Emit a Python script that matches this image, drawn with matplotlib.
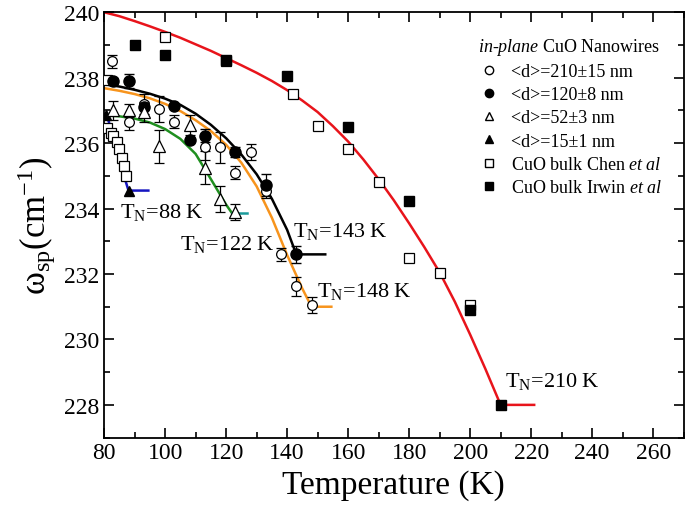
import matplotlib.pyplot as plt
from matplotlib.lines import Line2D
from matplotlib.ticker import MultipleLocator

plt.rcParams['font.family'] = 'Liberation Serif'
plt.rcParams['mathtext.fontset'] = 'custom'
plt.rcParams['mathtext.rm'] = 'Liberation Serif'
plt.rcParams['mathtext.it'] = 'Liberation Serif:italic'

# <d>=210 nm (open circles) and fit
d210_T = [82.6, 88, 93, 98, 103, 113, 118, 123, 128, 133, 138, 143, 148]
d210_w = [238.5, 236.65, 237.2, 237.05, 236.65, 235.87, 235.87, 235.1, 235.72, 234.53, 232.6, 231.62, 231.05]
d210_e = [0.2, 0.25, 0.3, 0.4, 0.2, 0.4, 0.47, 0.2, 0.25, 0.2, 0.2, 0.3, 0.25]
fit210_T = [80, 85, 90, 95, 100, 105, 110, 115, 120, 125, 130, 135, 140, 145, 148, 154.5]
fit210_w = [237.68, 237.6, 237.5, 237.37, 237.2, 236.98, 236.7, 236.37, 235.95, 235.4, 234.68, 233.72, 232.58, 231.55, 231.0, 231.0]

# <d>=120 nm (filled circles) and fit
d120_T = [83, 88, 93, 103, 108, 113, 123, 133, 143]
d120_w = [237.9, 237.9, 237.1, 237.13, 236.1, 236.22, 235.72, 234.72, 232.6]
d120_e = [0.1, 0.2, 0.0, 0.0, 0.0, 0.2, 0.15, 0.35, 0.25]
fit120_T = [80, 85, 90, 95, 100, 105, 110, 115, 120, 125, 130, 135, 140, 143, 152.5]
fit120_w = [237.8, 237.73, 237.63, 237.51, 237.36, 237.17, 236.9, 236.56, 236.15, 235.65, 235.05, 234.3, 233.35, 232.6, 232.6]

# <d>=52 nm (open triangles) and fit
d52_T = [83, 88, 93, 98, 108, 113, 118, 123]
d52_w = [237.0, 237.0, 236.95, 235.9, 236.55, 235.25, 234.3, 233.9]
d52_e = [0.3, 0.2, 0.3, 0.5, 0.3, 0.5, 0.4, 0.25]
fit52_T = [80, 85, 90, 95, 100, 105, 110, 115, 120, 122]
fit52_w = [236.85, 236.82, 236.75, 236.63, 236.43, 236.13, 235.67, 234.9, 234.12, 233.85]
flat52_T = [122, 127]
flat52_w = [233.85, 233.85]

# <d>=15 nm (filled triangles) and fit
d15_T = [80.5, 88]
d15_w = [236.85, 234.55]
fit15_T = [80, 81, 82, 83.5, 85, 86, 87, 88, 94.5]
fit15_w = [236.88, 236.8, 236.52, 236.18, 235.65, 235.3, 234.85, 234.55, 234.55]

# bulk CuO
chen_T = [81, 81, 82.4, 83, 84.1, 84.8, 85.8, 86.6, 87.3, 100, 120, 142, 150, 160, 170, 180, 190, 200]
chen_w = [237.92, 236.45, 236.31, 236.21, 236.04, 235.82, 235.55, 235.29, 235.0, 239.25, 238.5, 237.5, 236.52, 235.82, 234.8, 232.5, 232.02, 231.05]
irwin_T = [90, 100, 120, 140, 160, 180, 200, 210]
irwin_w = [239.0, 238.7, 238.55, 238.05, 236.5, 234.22, 230.9, 228.0]
fitbulk_T = [80, 85, 90, 95, 100, 105, 110, 115, 120, 125, 130, 135, 140, 145, 150, 155,
             160, 165, 170, 175, 180, 185, 190, 195, 200, 205, 210, 221]
fitbulk_w = [240.0, 239.88, 239.73, 239.57, 239.4, 239.22, 239.02, 238.82, 238.6, 238.38,
             238.15, 237.9, 237.62, 237.3, 236.95, 236.52, 236.05, 235.5, 234.9, 234.25,
             233.55, 232.82, 232.05, 231.15, 230.15, 229.1, 228.0, 228.0]

labels_TN = [r'T$_\mathrm{N}$=88 K', r'T$_\mathrm{N}$=122 K', r'T$_\mathrm{N}$=143 K',
             r'T$_\mathrm{N}$=148 K', r'T$_\mathrm{N}$=210 K']
labels_x = [85.1, 104.9, 141.9, 149.8, 211.5]
labels_y = [233.74, 232.76, 233.17, 231.33, 228.58]

fig, ax = plt.subplots(figsize=(6.85, 5.1), dpi=100)
fig.subplots_adjust(left=0.152, right=0.998, bottom=0.140, top=0.974)

lw = 1.8
ax.plot(fitbulk_T, fitbulk_w, color='#e8141b', lw=lw, zorder=2)
ax.plot(fit210_T, fit210_w, color='#f7941d', lw=lw, zorder=2)
ax.plot(fit120_T, fit120_w, color='black', lw=lw, zorder=2)
ax.plot(fit52_T, fit52_w, color='#1f8f1f', lw=lw, zorder=2)
ax.plot(flat52_T, flat52_w, color='#1a9a9a', lw=lw, zorder=2)
ax.plot(fit15_T, fit15_w, color='#1515c0', lw=lw, zorder=2)

ms = 7
ax.errorbar(d210_T, d210_w, yerr=d210_e, fmt='o', mfc='white', mec='black', ecolor='black',
            ms=ms, mew=0.9, elinewidth=0.9, capsize=3.5, zorder=3)
ax.errorbar(d120_T, d120_w, yerr=d120_e, fmt='o', mfc='black', mec='black', ecolor='black',
            ms=ms + 1, elinewidth=0.9, capsize=3.5, zorder=3)
ax.errorbar(d52_T, d52_w, yerr=d52_e, fmt='^', mfc='white', mec='black', ecolor='black',
            ms=ms + 1, mew=0.9, elinewidth=0.9, capsize=3.5, zorder=3)
ax.plot(d15_T, d15_w, '^', color='black', ms=ms, zorder=3)
ax.plot(chen_T, chen_w, 's', mfc='white', mec='black', mew=0.9, ms=ms, zorder=3)
ax.plot(irwin_T, irwin_w, 's', color='black', ms=ms, zorder=3)

for txt, x, y in zip(labels_TN, labels_x, labels_y):
    ax.text(x, y, txt, fontsize=16, va='baseline', ha='left')

ax.set_xlim(80, 270)
ax.set_ylim(227, 240)
ax.xaxis.set_major_locator(MultipleLocator(20))
ax.xaxis.set_minor_locator(MultipleLocator(10))
ax.yaxis.set_major_locator(MultipleLocator(2))
ax.yaxis.set_minor_locator(MultipleLocator(1))
ax.tick_params(which='both', direction='in', top=True, right=True, labelsize=17, width=1.2)
ax.tick_params(which='major', length=7)
ax.tick_params(which='minor', length=4)
for s in ax.spines.values():
    s.set_linewidth(1.3)

ax.set_xlabel('Temperature (K)', fontsize=24)
ax.set_ylabel('ω$_{\\mathrm{sp}}$(cm$^{-1}$)', fontsize=25)

handles = [
    Line2D([], [], ls='none', marker='o', mfc='white', mec='black', ms=6),
    Line2D([], [], ls='none', marker='o', color='black', ms=6),
    Line2D([], [], ls='none', marker='^', mfc='white', mec='black', ms=6),
    Line2D([], [], ls='none', marker='^', color='black', ms=6),
    Line2D([], [], ls='none', marker='s', mfc='white', mec='black', ms=6),
    Line2D([], [], ls='none', marker='s', color='black', ms=6),
]
names = ['<d>=210±15 nm', '<d>=120±8 nm', '<d>=52±3 nm', '<d>=15±1 nm',
         r'CuO bulk Chen $\mathit{et\ al}$', r'CuO bulk Irwin $\mathit{et\ al}$']
leg = ax.legend(handles, names, loc='upper right', bbox_to_anchor=(0.985, 0.975), frameon=False,
                fontsize=13, title=r'$\mathit{in}$-$\mathit{plane}$ CuO Nanowires',
                title_fontsize=13, alignment='left', handletextpad=0.6, labelspacing=0.35,
                borderpad=0.2, handlelength=1.2)

fig.savefig('out.png', dpi=100)
